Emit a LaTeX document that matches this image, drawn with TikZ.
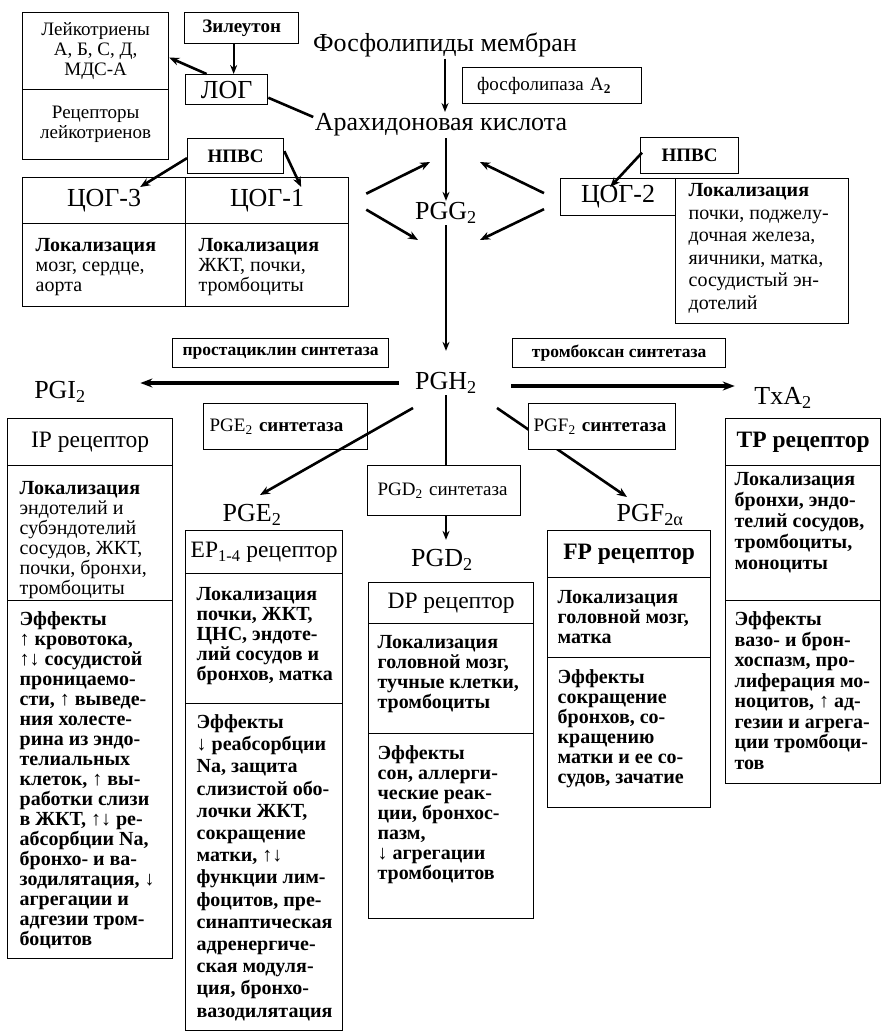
\documentclass[tikz,border=0pt]{standalone}
\usepackage{fontspec}
\setmainfont{Liberation Serif}
\usetikzlibrary{arrows.meta,positioning,calc}

\begin{document}
\begin{tikzpicture}[x = 1pt, y = -1pt, line width = 1.3pt,
    cell/.style 2 args = {draw, fill = white, anchor = north west, inner sep = 0pt,
                          minimum width = #1pt, minimum height = #2pt},
    lbl/.style = {inner sep = 1pt, font = \fontsize{26}{30}\selectfont},
    head/.style = {font = \fontsize{23.5}{26}\selectfont},
    note/.style = {font = \fontsize{19}{20}\selectfont},
    txt/.style = {anchor = north west, inner sep = 0pt, align = left,
                  font = \fontsize{20}{20}\selectfont},
    eff/.style = {txt, font = \fontsize{20}{20}\selectfont\bfseries},
    arr/.style = {-{Stealth[length = 10pt, width = 8pt]}, line width = 2.6pt},
    varr/.style = {-{Stealth[length = 9pt, width = 7pt]}, line width = 2pt},
    harr/.style = {-{Stealth[length = 12pt, width = 9pt]}, line width = 3.6pt}]
  \useasboundingbox (0, 0) rectangle (884, 1033);

  \node [lbl] (phos) at (445, 45) {Фосфолипиды мембран};
  \node [lbl] (arach) at (441, 125) {Арахидоновая кислота};
  \node [lbl] (pgg) at (446, 213) {PGG\textsubscript{2}};
  \node [lbl] (pgh) at (446, 383) {PGH\textsubscript{2}};
  \node [lbl] (pgi) at (60, 392) {PGI\textsubscript{2}};
  \node [lbl] (txa) at (783, 398) {TxA\textsubscript{2}};
  \node [lbl] (pge) at (252, 515) {PGE\textsubscript{2}};
  \node [lbl] (pgd) at (442, 560) {PGD\textsubscript{2}};
  \node [lbl] (pgf) at (650, 515) {PGF\textsubscript{2α}};

  \node [note, cell={146}{77}, align = center] (leuk) at (22, 12) {Лейкотриены\\А, Б, С, Д,\\МДС-А};
  \node [note, cell={146}{70}, align = center] (leukrec) at (22, 89) {Рецепторы\\лейкотриенов};
  \node [note, cell={114}{31}] (zil) at (184, 12) {\textbf{Зилеутон}};
  \node [lbl, cell={82}{30}] (log) at (185, 74) {ЛОГ};
  \node [note, cell={179}{36}, align = left, text width = 150pt] (pla) at (462, 67) {фосфолипаза A\textsubscript{\textbf{2}}};
  \node [note, cell={96}{35}] (nsaidL) at (187, 138) {\textbf{НПВС}};
  \node [note, cell={98}{36}] (nsaidR) at (640, 137) {\textbf{НПВС}};

  \node [lbl, cell={163}{46}] (cox3) at (22, 177) {ЦОГ-3};
  \node [lbl, cell={163}{46}] (cox1) at (185, 177) {ЦОГ-1};
  \node [cell={163}{83}] (cox3loc) at (22, 223) {};
  \node [cell={163}{83}] (cox1loc) at (185, 223) {};
  \node [lbl, cell={115}{37}] (cox2) at (560, 178) {ЦОГ-2};
  \node [cell={173}{145}] (cox2loc) at (675, 178) {};
  \node [txt, below right = 15pt and 13pt of cox3loc.north west] (cox3txt) {\textbf{Локализация}\\мозг, сердце,\\аорта};
  \node [txt, below right = 15pt and 13pt of cox1loc.north west] (cox1txt) {\textbf{Локализация}\\ЖКТ, почки,\\тромбоциты};
  \node [txt, font = \fontsize{20}{22.5}\selectfont, below right = 5pt and 13pt of cox2loc.north west] (cox2txt)
        {\textbf{Локализация}\\почки, поджелу-\\дочная железа,\\яичники, матка,\\сосудистый эн-\\дотелий};

  \node [note, font = \fontsize{17.5}{20}\selectfont, cell={216}{29}] (prost) at (172, 338) {\textbf{простациклин синтетаза}};
  \node [note, font = \fontsize{17.5}{20}\selectfont, cell={213}{29}] (thromb) at (512, 338) {\textbf{тромбоксан синтетаза}};

  \node [head, cell={165}{47}] (ip) at (7, 418) {IP рецептор};
  \node [cell={165}{135}] (iploc) at (7, 465) {};
  \node [cell={165}{358}] (ipeff) at (7, 600) {};
  \node [head, cell={157}{43}] (ep) at (185, 530) {EP\textsubscript{1-4} рецептор};
  \node [cell={157}{130}] (eploc) at (185, 573) {};
  \node [cell={157}{327}] (epeff) at (185, 703) {};
  \node [head, cell={165}{41}] (dp) at (368, 582) {DP рецептор};
  \node [cell={165}{110}] (dploc) at (368, 623) {};
  \node [cell={165}{185}] (dpeff) at (368, 733) {};
  \node [head, cell={163}{47}] (fp) at (547, 530) {\textbf{FP рецептор}};
  \node [cell={163}{80}] (fploc) at (547, 577) {};
  \node [cell={163}{150}] (fpeff) at (547, 657) {};
  \node [head, cell={155}{47}] (tp) at (725, 418) {\textbf{TP рецептор}};
  \node [cell={155}{135}] (tploc) at (725, 465) {};
  \node [cell={155}{183}] (tpeff) at (725, 600) {};

  \node [txt, below right = 16pt and 12pt of iploc.north west] (iptxt)
        {\textbf{Локализация}\\эндотелий и\\субэндотелий\\сосудов, ЖКТ,\\почки, бронхи,\\тромбоциты};
  \node [eff, below right = 11pt and 12pt of ipeff.north west] (ipefftxt)
        {Эффекты\\↑ кровотока,\\↑↓ сосудистой\\проницаемо-\\сти, ↑ выведе-\\ния холесте-\\рина из эндо-\\телиальных\\клеток, ↑ вы-\\работки слизи\\в ЖКТ, ↑↓ ре-\\абсорбции Na,\\бронхо- и ва-\\зодилятация, ↓\\агрегации и\\адгезии тром-\\боцитов};
  \node [eff, below right = 14pt and 11pt of eploc.north west] (eptxt)
        {Локализация\\почки, ЖКТ,\\ЦНС, эндоте-\\лий сосудов и\\бронхов, матка};
  \node [eff, font = \fontsize{20}{22.2}\selectfont\bfseries, below right = 11pt and 11pt of epeff.north west] (epefftxt)
        {Эффекты\\↓ реабсорбции\\Na, защита\\слизистой обо-\\лочки ЖКТ,\\сокращение\\матки, ↑↓\\функции лим-\\фоцитов, пре-\\синаптическая\\адренергиче-\\ская модуля-\\ция, бронхо-\\вазодилятация};
  \node [eff, below right = 12pt and 9pt of dploc.north west] (dptxt)
        {Локализация\\головной мозг,\\тучные клетки,\\тромбоциты};
  \node [eff, below right = 12pt and 9pt of dpeff.north west] (dpefftxt)
        {Эффекты\\сон, аллерги-\\ческие реак-\\ции, бронхос-\\пазм,\\↓ агрегации\\тромбоцитов};
  \node [eff, below right = 13pt and 10pt of fploc.north west] (fptxt)
        {Локализация\\головной мозг,\\матка};
  \node [eff, below right = 12pt and 10pt of fpeff.north west] (fpefftxt)
        {Эффекты\\сокращение\\бронхов, со-\\кращению\\матки и ее со-\\судов, зачатие};
  \node [eff, font = \fontsize{20}{21}\selectfont\bfseries, below right = 7pt and 9pt of tploc.north west] (tptxt)
        {Локализация\\бронхи, эндо-\\телий сосудов,\\тромбоциты,\\моноциты};
  \node [eff, font = \fontsize{20}{20.5}\selectfont\bfseries, below right = 11pt and 9pt of tpeff.north west] (tpefftxt)
        {Эффекты\\вазо- и брон-\\хоспазм, про-\\лиферация мо-\\ноцитов, ↑ ад-\\гезии и агрега-\\ции тромбоци-\\тов};

  \draw [varr] ([xshift=-8pt]zil.south) -- ([xshift=7pt]log.north);
  \draw [arr] (log.142) -- (leuk.-5);
  \draw [line width = 2.6pt] (log.-11) -- ([yshift=8pt]arach.west);
  \draw [varr] (phos.south) -- (phos.south |- arach.north);
  \draw [varr] (pgg.north |- arach.south) -- (pgg.north);
  \draw [varr, shorten >= 20pt] (pgg.south) -- (pgh.north);
  \draw [arr] ([yshift=-2pt]nsaidL.west) -- ([xshift=36pt, yshift=-10pt]cox3.north);
  \draw [arr] ([yshift=5pt]nsaidL.east) -- ([xshift=34pt, yshift=-10pt]cox1.north);
  \draw [arr] ([xshift=2pt, yshift=3pt]nsaidR.west) -- ([xshift=-8pt, yshift=-9pt]cox2.north);
  \draw [arr] ([xshift=17pt, yshift=7pt]cox1.east) -- ([xshift=-16pt, yshift=51pt]pgg.center);
  \draw [arr] ([xshift=17pt, yshift=-9pt]cox1.east) -- ([xshift=-28pt, yshift=-27pt]pgg.center);
  \draw [arr] ([xshift=-16pt, yshift=4pt]cox2.west) -- ([xshift=34pt, yshift=51pt]pgg.center);
  \draw [arr] ([xshift=-16pt, yshift=-12pt]cox2.west) -- ([xshift=34pt, yshift=-27pt]pgg.center);
  \draw [harr] ([xshift=-15pt]pgh.west) -- ($(pgi.east |- pgh.west)+(53, 0)$);
  \draw [harr] ([xshift=33pt, yshift=-3pt]pgh.east) -- ($(txa.west |- pgh.east)+(-18, 3)$);
  \draw [varr, shorten >= 8pt] (pgh.south) -- (pgh.south |- pgd.north);
  \draw [arr] ([xshift=51pt, yshift=-25pt]pgh.center) -- ([xshift=-23pt, yshift=18pt]pgf.center);

  \node [note, cell={164}{46}, align = left, text width = 152pt] (pgeS) at (203, 403) {PGE\textsubscript{2} \textbf{синтетаза}\\[6pt]};
  \node [note, cell={153}{50}, align = left, text width = 133pt] (pgdS) at (367, 465) {PGD\textsubscript{2} синтетаза\\[4pt]};
  \node [note, cell={147}{46}, align = left, text width = 137pt] (pgfS) at (528, 403) {PGF\textsubscript{2} \textbf{синтетаза}\\[6pt]};
  \draw [arr] ([xshift=-33pt, yshift=-25pt]pgh.center) -- ([xshift=8pt, yshift=20pt]pge.center);
\end{tikzpicture}
\end{document}
